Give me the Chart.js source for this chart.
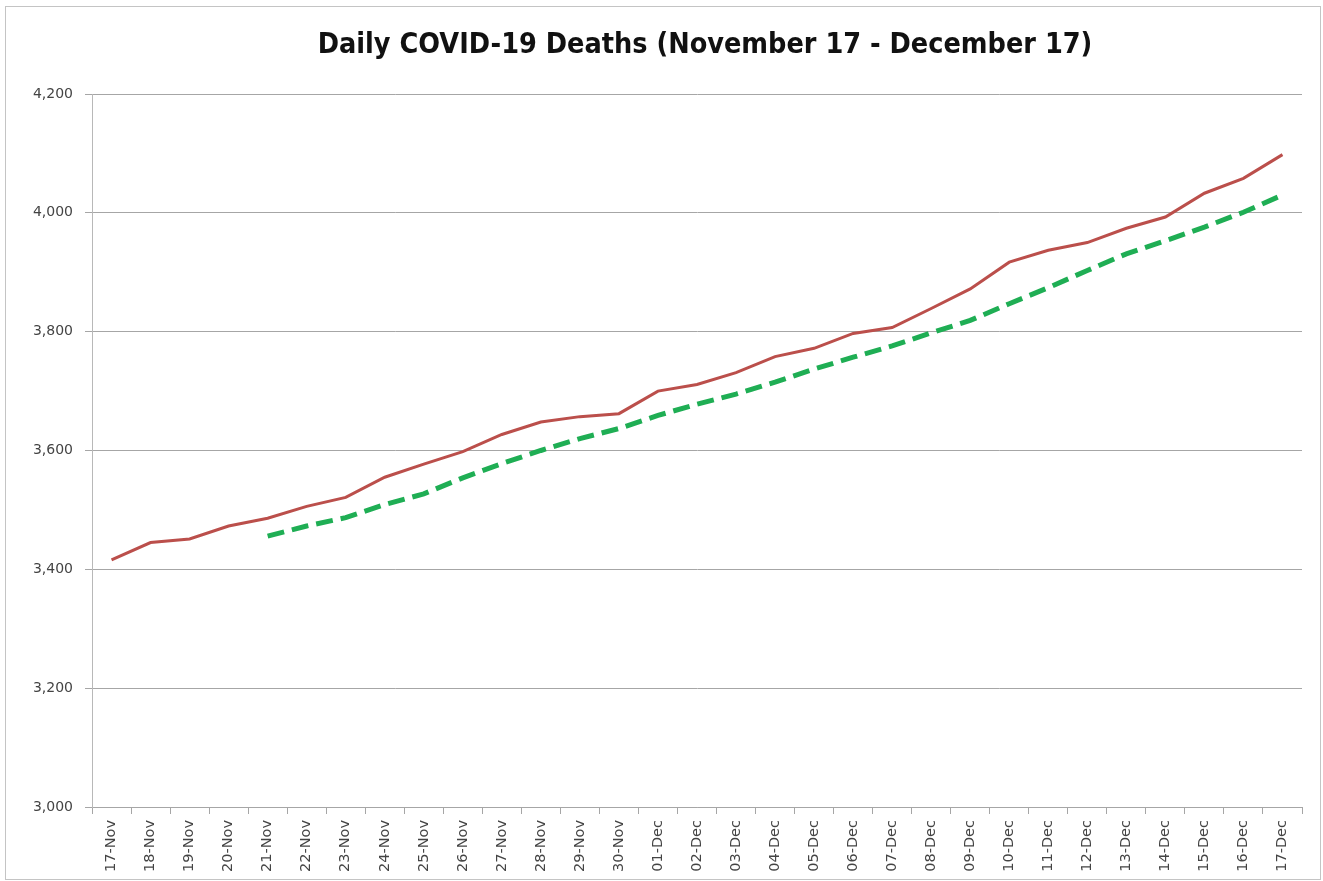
<!DOCTYPE html>
<html>
<head>
<meta charset="utf-8">
<script src="https://cdn.jsdelivr.net/npm/chart.js@4/dist/chart.umd.min.js"></script>
<style>
  html, body { margin: 0; padding: 0; background: #fff; }
  #wrap { position: relative; width: 1323px; height: 881px; }
  #frame { position: absolute; left: 5px; top: 6px; width: 1314px; height: 872px;
           border: 1px solid #c4c4c4; pointer-events: none; }
</style>
</head>
<body>
<div id="wrap">
  <canvas id="myChart" width="1323" height="881"></canvas>
  <div id="frame"></div>
</div>
<script>
// dates on the x axis
const days = ['17-Nov','18-Nov','19-Nov','20-Nov','21-Nov','22-Nov','23-Nov','24-Nov','25-Nov','26-Nov',
  '27-Nov','28-Nov','29-Nov','30-Nov','01-Dec','02-Dec','03-Dec','04-Dec','05-Dec','06-Dec',
  '07-Dec','08-Dec','09-Dec','10-Dec','11-Dec','12-Dec','13-Dec','14-Dec','15-Dec','16-Dec','17-Dec']

// daily deaths (red line)
const deaths = [3416, 3445, 3451, 3473, 3486, 3506, 3521, 3555, 3577, 3598,
  3627, 3648, 3657, 3662, 3700, 3711, 3731, 3758, 3772, 3797,
  3807, 3839, 3872, 3917, 3937, 3950, 3974, 3993, 4033, 4058, 4098]

// dashed green line, starts on 21-Nov
const trend = [null, null, null, null, 3456, 3473, 3487, 3509, 3527, 3554,
  3578, 3600, 3620, 3637, 3659, 3678, 3695, 3715, 3737, 3757,
  3776, 3798, 3819, 3847, 3874, 3903, 3931, 3953, 3976, 4001, 4030]

const yTicks = [3000, 3200, 3400, 3600, 3800, 4000, 4200]
const titleText = 'Daily COVID-19 Deaths (November 17 - December 17)'

const canvas = document.getElementById('myChart')
const tickFont = { family: '"DejaVu Sans", sans-serif', size: 14 }

// title sits a little right of the canvas centre, like in the original
const titlePlugin = {
  id: 'topTitle',
  afterDraw(chart) {
    const ctx = chart.ctx
    ctx.save()
    ctx.font = 'bold 28.5px "Liberation Sans Narrow", "DejaVu Sans Condensed", sans-serif'
    ctx.fillStyle = '#111'
    ctx.textAlign = 'center'
    ctx.textBaseline = 'middle'
    ctx.fillText(titleText, 705, 46)
    ctx.restore()
  }
}

const config = {
  type: 'line',
  data: {
    labels: days,
    datasets: [
      {
        label: 'Deaths',
        data: deaths,
        borderColor: '#bb4f4b',
        borderWidth: 3,
        pointRadius: 0,
        tension: 0
      },
      {
        label: 'Trend',
        data: trend,
        borderColor: '#1fae54',
        borderWidth: 5,
        borderDash: [17, 8],
        borderCapStyle: 'butt',
        pointRadius: 0,
        tension: 0,
        spanGaps: false
      }
    ]
  },
  options: {
    responsive: false,
    animation: false,
    layout: { padding: { left: 0, right: 21, top: 94, bottom: 0 } },
    plugins: {
      legend: { display: false },
      tooltip: { enabled: false },
      title: { display: false }
    },
    scales: {
      x: {
        offset: true,
        grid: { offset: true, drawOnChartArea: false, drawTicks: true, tickLength: 7, color: '#a6a6a6' },
        border: { color: '#a6a6a6', width: 1 },
        ticks: { color: '#444', font: { family: '"DejaVu Sans", sans-serif', size: 14.5 }, minRotation: 90, maxRotation: 90, autoSkip: false, padding: 6 },
        afterFit: scale => { scale.height = 74 }
      },
      y: {
        min: 3000,
        max: 4200,
        afterBuildTicks: scale => { scale.ticks = yTicks.map(v => ({ value: v })) },
        grid: { color: '#a6a6a6', tickLength: 7 },
        border: { color: '#b8b8b8', width: 1 },
        ticks: {
          color: '#444',
          font: tickFont,
          padding: 12,
          callback: v => v.toLocaleString('en-US')
        },
        afterFit: scale => { scale.width = 92 }
      }
    }
  },
  plugins: [titlePlugin]
}

new Chart(canvas, config)
</script>
</body>
</html>
